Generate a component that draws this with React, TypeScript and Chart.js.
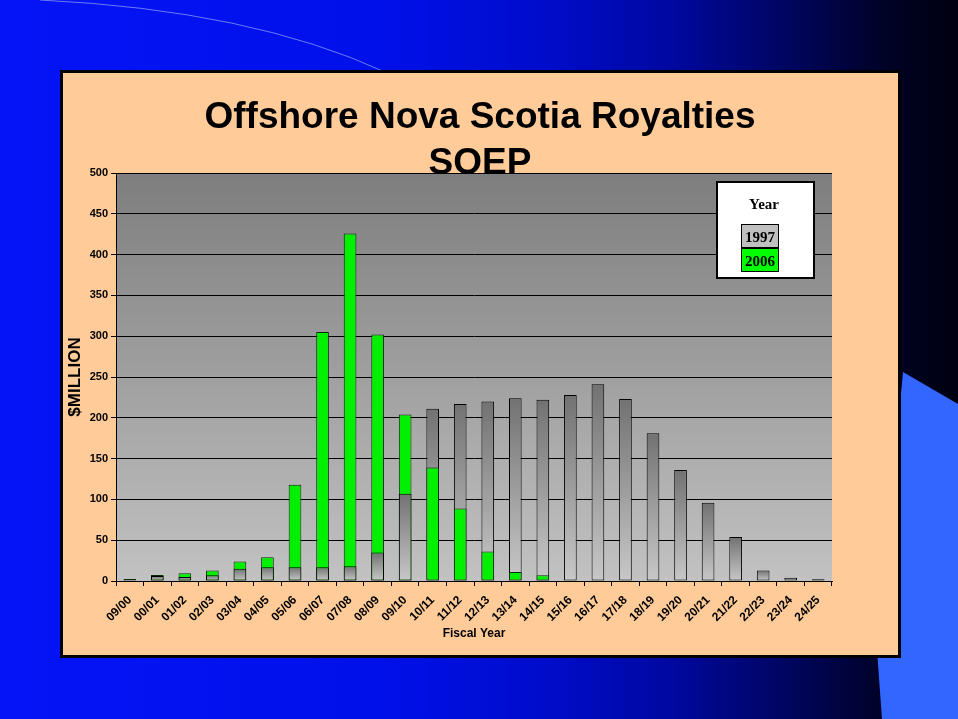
import React, { useEffect, useRef } from "react";
import { Chart, registerables } from "chart.js";

Chart.register(...registerables);

const fiscalYears = [
  "09/00", "00/01", "01/02", "02/03", "03/04", "04/05", "05/06", "06/07", "07/08",
  "08/09", "09/10", "10/11", "11/12", "12/13", "13/14", "14/15", "15/16", "16/17",
  "17/18", "18/19", "19/20", "20/21", "21/22", "22/23", "23/24", "24/25",
];
const royalties1997: (number | null)[] = [
  null, 6, 5, 7, 15, 17, 17, 17, 18, 35, 107, 211, 217, 220, 224, 222, 228, 241,
  223, 181, 136, 96, 54, 13, 4, 2,
];
const royalties2006: (number | null)[] = [
  2.5, 7.5, 9.5, 13, 24, 29, 118, 305, 426, 302, 204, 139, 89, 36, 11, 7, null, null,
  null, null, null, null, null, null, null, null,
];
const titleLines = ["Offshore Nova Scotia Royalties", "SOEP"];
const legendTitle = "Year";
const seriesNames = ["1997", "2006"];
const yMax = 500;
const yStep = 50;

const FONT = "'Liberation Sans', Arial, sans-serif";
const GREEN = "#00f000";

// split 2006 into "behind" (larger than 1997) and "in front" (smaller than 1997)
const green2006Back = royalties2006.map((v, i) =>
  v !== null && v >= (royalties1997[i] ?? 0) ? v : null
);
const green2006Front = royalties2006.map((v, i) =>
  v !== null && v < (royalties1997[i] ?? 0) ? v : null
);

const greyFill = (ctx: any) => {
  const chart = ctx.chart;
  const v = ctx.raw;
  if (!chart.chartArea || typeof v !== "number") return "#a0a0a0";
  const ys = chart.scales.y;
  const top = ys.getPixelForValue(v);
  const bottom = ys.getPixelForValue(0);
  if (!isFinite(top) || !isFinite(bottom) || bottom - top < 1) return "#b0b0b0";
  const g = chart.ctx.createLinearGradient(0, top, 0, bottom);
  g.addColorStop(0, "#727272");
  g.addColorStop(1, "#c8c8c8");
  return g;
};

const plotBg = {
  id: "plotBg",
  beforeDraw(chart: any) {
    const { ctx, chartArea: a } = chart;
    const g = ctx.createLinearGradient(0, a.top, 0, a.bottom);
    g.addColorStop(0, "#7e7e7e");
    g.addColorStop(1, "#c2c2c2");
    ctx.save();
    ctx.fillStyle = g;
    ctx.fillRect(a.left, a.top, a.right - a.left, a.bottom - a.top);
    ctx.restore();
  },
};

const overlay = {
  id: "overlay",
  afterDraw(chart: any) {
    const ctx = chart.ctx;
    ctx.save();
    // title
    ctx.fillStyle = "#000";
    ctx.textAlign = "center";
    ctx.textBaseline = "alphabetic";
    ctx.font = `bold 37px ${FONT}`;
    ctx.fillText(titleLines[0], 417, 55);
    ctx.fillText(titleLines[1], 417, 101);

    // legend box
    const bx = 654, by = 109, bw = 97, bh = 96;
    ctx.fillStyle = "#ffffff";
    ctx.fillRect(bx, by, bw, bh);
    ctx.strokeStyle = "#000";
    ctx.lineWidth = 2;
    ctx.strokeRect(bx, by, bw, bh);
    ctx.fillStyle = "#000";
    ctx.font = `bold 15px 'Liberation Serif', 'Times New Roman', serif`;
    ctx.fillText(legendTitle, 701, 136);
    const cx = 678, cw = 38, ch = 24;
    const cells = [
      { y: 151, fill: "#c0c0c0", text: seriesNames[0] },
      { y: 175, fill: "#00ff00", text: seriesNames[1] },
    ];
    ctx.lineWidth = 1;
    for (const c of cells) {
      ctx.fillStyle = c.fill;
      ctx.fillRect(cx, c.y, cw, ch);
      ctx.strokeStyle = "#000";
      ctx.strokeRect(cx + 0.5, c.y + 0.5, cw - 1, ch - 1);
      ctx.fillStyle = "#000";
      ctx.fillText(c.text, cx + cw / 2, c.y + 18);
    }
    ctx.restore();
  },
};

function RoyaltiesChart() {
  const ref = useRef<HTMLCanvasElement | null>(null);
  useEffect(() => {
    if (!ref.current) return;
    const common = {
      grouped: false,
      barPercentage: 0.46,
      categoryPercentage: 1,
      borderWidth: 1,
      borderSkipped: false,
    };
    const chart = new Chart(ref.current, {
      type: "bar",
      data: {
        labels: fiscalYears,
        datasets: [
          {
            label: seriesNames[1] + " front",
            data: green2006Front,
            backgroundColor: GREEN,
            borderColor: "#0a2a0a",
            order: 0,
            ...common,
          },
          {
            label: seriesNames[0],
            data: royalties1997,
            backgroundColor: greyFill,
            borderColor: "#000000",
            order: 1,
            ...common,
          },
          {
            label: seriesNames[1],
            data: green2006Back,
            backgroundColor: GREEN,
            borderColor: "#0a2a0a",
            order: 2,
            ...common,
          },
        ] as any,
      },
      options: {
        responsive: false,
        animation: false,
        events: [],
        layout: { padding: { top: 100, right: 66, bottom: 0, left: 0 } },
        plugins: {
          legend: { display: false },
          tooltip: { enabled: false },
          title: { display: false },
        },
        scales: {
          x: {
            offset: true,
            grid: {
              offset: true,
              drawOnChartArea: false,
              drawTicks: true,
              tickLength: 5,
              color: "#000",
            },
            border: { display: true, color: "#000", width: 1 },
            ticks: {
              autoSkip: false,
              minRotation: 45,
              maxRotation: 45,
              padding: 7,
              color: "#000",
              font: { family: FONT, size: 12, weight: "bold" },
            },
            title: {
              display: true,
              text: "Fiscal Year",
              color: "#000",
              font: { family: FONT, size: 12, weight: "bold" },
              padding: { top: 0, bottom: 14 },
            },
            afterFit(scale: any) {
              scale.height = 74;
            },
          },
          y: {
            min: 0,
            max: yMax,
            grid: {
              color: "#000",
              lineWidth: 1,
              drawTicks: true,
              tickLength: 5,
            },
            border: { display: true, color: "#000", width: 1 },
            ticks: {
              stepSize: yStep,
              padding: 3,
              color: "#000",
              font: { family: FONT, size: 11, weight: "bold" },
            },
            title: {
              display: true,
              text: "$MILLION",
              color: "#000",
              font: { family: FONT, size: 17, weight: "bold" },
              padding: { top: 2, bottom: 2 },
            },
            afterFit(scale: any) {
              scale.width = 53;
            },
          },
        },
      } as any,
      plugins: [plotBg, overlay],
    });
    return () => chart.destroy();
  }, []);
  return <canvas ref={ref} width={835} height={582} style={{ display: "block" }} />;
}

export default function App() {
  return (
    <div
      style={{
        position: "fixed",
        left: 0,
        top: 0,
        width: 958,
        height: 719,
        overflow: "hidden",
        background:
          "linear-gradient(to right, #0414f6 0%, #0010ea 40%, #000cc8 58%, #0008a0 70%, #000560 82%, #000228 92%, #000010 100%)",
      }}
    >
      <svg
        width={958}
        height={719}
        style={{ position: "absolute", left: 0, top: 0 }}
      >
        <path d="M 40 0 Q 250 10 385 72" stroke="rgba(140,160,255,0.75)" strokeWidth={1} fill="none" />
        <polygon points="903,372 958,404 958,719 882,719 877,650" fill="#3366ff" />
      </svg>
      <div
        style={{
          position: "absolute",
          left: 60,
          top: 70,
          width: 835,
          height: 582,
          border: "3px solid #000",
          background: "#ffcc99",
        }}
      >
        <RoyaltiesChart />
      </div>
    </div>
  );
}
